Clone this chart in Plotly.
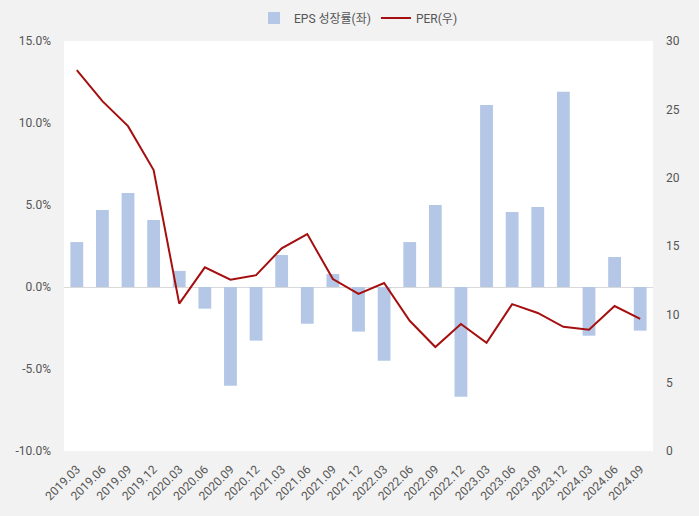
import plotly.graph_objects as go

# quarters on the x axis
quarters = ['2019.03', '2019.06', '2019.09', '2019.12', '2020.03', '2020.06',
            '2020.09', '2020.12', '2021.03', '2021.06', '2021.09', '2021.12',
            '2022.03', '2022.06', '2022.09', '2022.12', '2023.03', '2023.06',
            '2023.09', '2023.12', '2024.03', '2024.06', '2024.09']

# EPS growth in percent (left axis)
eps_growth = [2.74, 4.70, 5.73, 4.09, 0.98, -1.32, -6.02, -3.27, 1.95, -2.24,
              0.79, -2.72, -4.49, 2.74, 5.00, -6.69, 11.10, 4.57, 4.88, 11.90,
              -2.97, 1.83, -2.66]

# PER (right axis)
per = [27.87, 25.6, 23.77, 20.56, 10.78, 13.44, 12.53, 12.87, 14.83, 15.87,
       12.58, 11.49, 12.29, 9.53, 7.61, 9.29, 7.92, 10.75, 10.10, 9.09,
       8.87, 10.61, 9.66]

left_ticks = [-10, -5, 0, 5, 10, 15]
right_ticks = [0, 5, 10, 15, 20, 25, 30]

fig = go.Figure()
fig.add_trace(go.Bar(x=quarters, y=[v / 100 for v in eps_growth],
                     name='EPS 성장률(좌)',
                     marker=dict(color='#b4c7e7', line_width=0)))
fig.add_trace(go.Scatter(x=quarters, y=per, name='PER(우)', yaxis='y2',
                         mode='lines',
                         line=dict(color='#a50f0f', width=2)))

fig.update_layout(
    width=699, height=516,
    margin=dict(l=64, r=46, t=41, b=65),
    paper_bgcolor='#f2f2f2', plot_bgcolor='white',
    font=dict(family='Roboto, Noto Sans CJK KR', size=12, color='#555555'),
    bargap=0.5,
    showlegend=True,
    legend=dict(orientation='h', x=0.5, xanchor='center',
                yref='container', y=0.965, yanchor='middle',
                font=dict(size=12, color='#555555'),
                bgcolor='rgba(0,0,0,0)'),
    xaxis=dict(type='category', tickangle=-45, showgrid=False,
               ticklabelstandoff=8, showline=False, automargin=False,
               tickfont=dict(size=12)),
    yaxis=dict(range=[-0.10, 0.15], tickvals=[t / 100 for t in left_ticks],
               ticktext=['%.1f%%' % t for t in left_ticks],
               showgrid=False, zeroline=True, zerolinecolor='#d9d9d9',
               zerolinewidth=1, ticklabelstandoff=12, automargin=False),
    yaxis2=dict(range=[0, 30], tickvals=right_ticks, overlaying='y',
                side='right', showgrid=False, zeroline=False,
                ticklabelstandoff=12, automargin=False),
)

# the page body has a default 8px margin; drop it so the chart fills the window
fig.write_html("out.html", config={'displayModeBar': False},
               post_script="document.body.style.margin='0';")
